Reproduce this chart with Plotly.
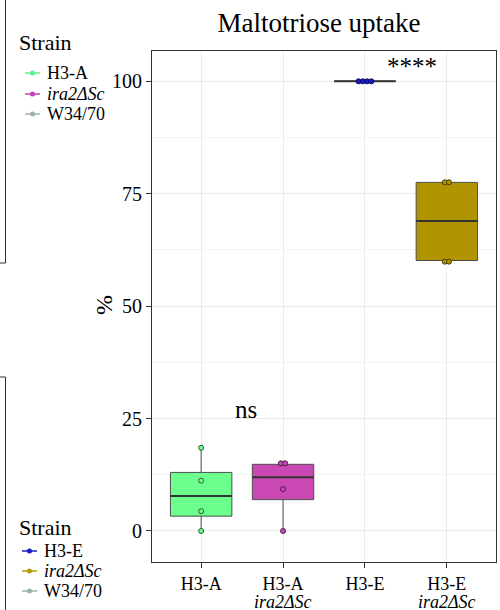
import numpy as np
import plotly.graph_objects as go

# ---------------- data ----------------
categories = ["H3-A", "H3-A", "H3-E", "H3-E"]
category_sub = ["", "<i>ira2ΔSc</i>", "", "<i>ira2ΔSc</i>"]
h3a_vals = [0.0, 4.4, 11.2, 18.5]
h3a_ira2_vals = [0.0, 9.3, 14.6, 15.5]
h3e_vals = [100.0, 100.0, 100.0, 100.0]
h3e_ira2_vals = [59.4, 60.4, 77.5, 77.6]
series_values = [h3a_vals, h3a_ira2_vals, h3e_vals, h3e_ira2_vals]

box_fill = ["#6CFF8D", "#C948B4", "#1A1ACC", "#B09400"]
dot_edge = ["#2C5A38", "#4E1C47", "#0A0A55", "#4A3E00"]

legend_title = "Strain"
legend1_names = ["H3-A", "<i>ira2ΔSc</i>", "W34/70"]
legend1_colors = ["#5EF08C", "#C43FB5", "#9FB0B0"]
legend2_names = ["H3-E", "<i>ira2ΔSc</i>", "W34/70"]
legend2_colors = ["#1A1ACC", "#B39A00", "#9FB0B0"]

y_ticks = [0, 25, 50, 75, 100]

FONT = "Liberation Serif"
W, H = 500, 610
ML, MR, MT, MB = 152, 4, 51, 48
PW, PH = W - ML - MR, H - MT - MB

BOX_W = 0.75
DOT_STEP = 0.052


def stack_dots(values, tol=1.5):
    """ggplot-like centred dot stacking: near-equal values share a row."""
    vals = sorted(values)
    groups = []
    for v in vals:
        if groups and abs(v - groups[-1][0]) < tol:
            groups[-1].append(v)
        else:
            groups.append([v])
    xs, ys = [], []
    for g in groups:
        n = len(g)
        yc = float(np.mean(g))
        for i in range(n):
            xs.append((i - (n - 1) / 2) * DOT_STEP)
            ys.append(yc)
    return xs, ys


def px_x(px):
    return (px - ML) / PW


def px_y(py):
    return (H - MB - py) / PH


fig = go.Figure()

for i, vals in enumerate(series_values):
    q1, med, q3 = np.percentile(vals, [25, 50, 75])
    iqr = q3 - q1
    lo = min(v for v in vals if v >= q1 - 1.5 * iqr)
    hi = max(v for v in vals if v <= q3 + 1.5 * iqr)
    fig.add_trace(go.Box(
        x=[i], q1=[q1], median=[med], q3=[q3], lowerfence=[lo], upperfence=[hi],
        width=BOX_W, whiskerwidth=0, fillcolor=box_fill[i],
        line=dict(color="#4D4D4D", width=1), boxpoints=False,
        showlegend=False, hoverinfo="skip"))
    fig.add_trace(go.Scatter(
        x=[i - BOX_W / 2, i + BOX_W / 2], y=[med, med], mode="lines",
        line=dict(color="#333333", width=2), showlegend=False, hoverinfo="skip"))
    dx, dy = stack_dots(vals)
    fig.add_trace(go.Scatter(
        x=[i + d for d in dx], y=dy, mode="markers",
        marker=dict(size=5, color=box_fill[i], line=dict(color=dot_edge[i], width=1)),
        showlegend=False, hoverinfo="skip"))

# second line of the category labels
for i, sub in enumerate(category_sub):
    if sub:
        fig.add_annotation(xref="x", yref="paper", x=i, y=px_y(601.5), text=sub,
                           showarrow=False, xanchor="center", yanchor="middle",
                           font=dict(family=FONT, size=18, color="black"))


# ---------------- legends (drawn as keys + real text) ----------------
def draw_legend(title_y, item_ys, line_x0, line_x1, text_x, names, colors):
    fig.add_annotation(xref="paper", yref="paper", x=px_x(17), y=px_y(title_y),
                       text=legend_title, showarrow=False, xanchor="left", yanchor="middle",
                       font=dict(family=FONT, size=22, color="black"))
    for yy, name, col in zip(item_ys, names, colors):
        fig.add_shape(type="line", xref="paper", yref="paper",
                      x0=px_x(line_x0), x1=px_x(line_x1), y0=px_y(yy), y1=px_y(yy),
                      line=dict(color=col, width=1.5))
        cx = (line_x0 + line_x1) / 2
        fig.add_shape(type="circle", xref="paper", yref="paper",
                      x0=px_x(cx - 2.5), x1=px_x(cx + 2.5), y0=px_y(yy + 2.5), y1=px_y(yy - 2.5),
                      fillcolor=col, line=dict(color=col, width=0))
        fig.add_annotation(xref="paper", yref="paper", x=px_x(text_x), y=px_y(yy),
                           text=name, showarrow=False, xanchor="left", yanchor="middle",
                           font=dict(family=FONT, size=18, color="black"))


draw_legend(42, [73, 94, 114], 25, 40, 45, legend1_names, legend1_colors)
draw_legend(527, [551, 571, 591], 22, 37, 42, legend2_names, legend2_colors)

# significance labels
fig.add_annotation(x=0.55, y=27.0, text="ns", showarrow=False,
                   font=dict(family=FONT, size=25, color="black"), xanchor="center", yanchor="middle")
fig.add_annotation(x=2.57, y=103.3, text="****", showarrow=False,
                   font=dict(family=FONT, size=25, color="black"), xanchor="center", yanchor="middle")

# y axis title
fig.add_annotation(xref="paper", yref="paper", x=px_x(104), y=px_y(305), text="%",
                   textangle=-90, showarrow=False, xanchor="center", yanchor="middle",
                   font=dict(family=FONT, size=24, color="black"))

# partial neighbouring panels at the left edge
edge = "#333333"
for x0, y0, x1, y1 in [(5.5, 0, 5.5, 263), (0, 263, 5.5, 263),
                       (0, 377, 5.5, 377), (5.5, 377, 5.5, 610)]:
    fig.add_shape(type="line", xref="paper", yref="paper",
                  x0=px_x(x0), y0=px_y(y0), x1=px_x(x1), y1=px_y(y1),
                  line=dict(color=edge, width=1))

fig.update_layout(
    width=W, height=H,
    margin=dict(l=ML, r=MR, t=MT, b=MB, autoexpand=False),
    paper_bgcolor="white", plot_bgcolor="white",
    font=dict(family=FONT, color="black"),
    showlegend=False,
    title=dict(text="Maltotriose uptake", x=319 / W, xref="container", xanchor="center",
               y=1 - 22.6 / H, yref="container", yanchor="middle",
               font=dict(family=FONT, size=27, color="black")),
    xaxis=dict(range=[-0.6, 3.6], tickvals=list(range(len(categories))), ticktext=categories,
               showgrid=True, gridcolor="#EBEBEB", gridwidth=1, zeroline=False,
               showline=True, mirror=True, linecolor=edge, linewidth=1,
               ticks="outside", ticklen=5, tickcolor=edge,
               tickfont=dict(family=FONT, size=18, color="black")),
    yaxis=dict(range=[-6.9, 106.75], tickvals=y_ticks,
               showgrid=True, gridcolor="#EBEBEB", gridwidth=1, zeroline=False,
               minor=dict(dtick=12.5, tick0=0, showgrid=True, gridcolor="#F4F4F4", ticks=""),
               showline=True, mirror=True, linecolor=edge, linewidth=1,
               ticks="outside", ticklen=5, tickcolor=edge,
               tickfont=dict(family=FONT, size=20, color="black")),
)

fig.write_html("out.html", config={"displayModeBar": False},
               post_script="document.body.style.margin='0px';")
